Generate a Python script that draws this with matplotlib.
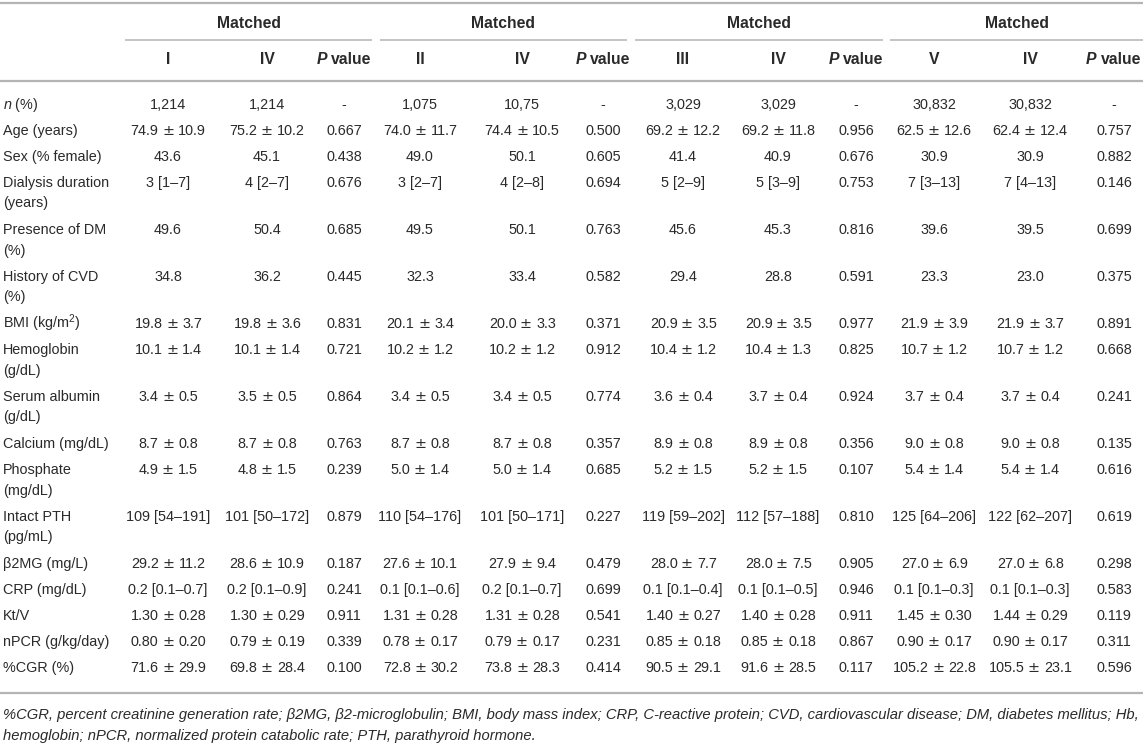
import matplotlib
matplotlib.use("Agg")
import matplotlib.pyplot as plt

plt.rcParams['font.family'] = ['Liberation Sans', 'DejaVu Sans']
plt.rcParams['mathtext.fontset'] = 'custom'
plt.rcParams['mathtext.rm'] = 'Liberation Sans'
plt.rcParams['mathtext.it'] = 'Liberation Sans:italic'
plt.rcParams['mathtext.bf'] = 'Liberation Sans:bold'

# ---------------- data ----------------
group_titles = ["Matched", "Matched", "Matched", "Matched"]
sub_headers = [["I", "IV"], ["II", "IV"], ["III", "IV"], ["V", "IV"]]

row_labels = [
    ["$n$ (%)"],
    ["Age (years)"],
    ["Sex (% female)"],
    ["Dialysis duration", "(years)"],
    ["Presence of DM", "(%)"],
    ["History of CVD", "(%)"],
    ["BMI (kg/m$^2$)"],
    ["Hemoglobin", "(g/dL)"],
    ["Serum albumin", "(g/dL)"],
    ["Calcium (mg/dL)"],
    ["Phosphate", "(mg/dL)"],
    ["Intact PTH", "(pg/mL)"],
    ["β2MG (mg/L)"],
    ["CRP (mg/dL)"],
    ["Kt/V"],
    ["nPCR (g/kg/day)"],
    ["%CGR (%)"],
]

g1_a = ["1,214", "74.9 ± 10.9", "43.6", "3 [1–7]", "49.6", "34.8", "19.8 ± 3.7",
        "10.1 ± 1.4", "3.4 ± 0.5", "8.7 ± 0.8", "4.9 ± 1.5", "109 [54–191]",
        "29.2 ± 11.2", "0.2 [0.1–0.7]", "1.30 ± 0.28", "0.80 ± 0.20", "71.6 ± 29.9"]
g1_b = ["1,214", "75.2 ± 10.2", "45.1", "4 [2–7]", "50.4", "36.2", "19.8 ± 3.6",
        "10.1 ± 1.4", "3.5 ± 0.5", "8.7 ± 0.8", "4.8 ± 1.5", "101 [50–172]",
        "28.6 ± 10.9", "0.2 [0.1–0.9]", "1.30 ± 0.29", "0.79 ± 0.19", "69.8 ± 28.4"]
g1_p = ["-", "0.667", "0.438", "0.676", "0.685", "0.445", "0.831", "0.721", "0.864",
        "0.763", "0.239", "0.879", "0.187", "0.241", "0.911", "0.339", "0.100"]

g2_a = ["1,075", "74.0 ± 11.7", "49.0", "3 [2–7]", "49.5", "32.3", "20.1 ± 3.4",
        "10.2 ± 1.2", "3.4 ± 0.5", "8.7 ± 0.8", "5.0 ± 1.4", "110 [54–176]",
        "27.6 ± 10.1", "0.1 [0.1–0.6]", "1.31 ± 0.28", "0.78 ± 0.17", "72.8 ± 30.2"]
g2_b = ["10,75", "74.4 ± 10.5", "50.1", "4 [2–8]", "50.1", "33.4", "20.0 ± 3.3",
        "10.2 ± 1.2", "3.4 ± 0.5", "8.7 ± 0.8", "5.0 ± 1.4", "101 [50–171]",
        "27.9 ± 9.4", "0.2 [0.1–0.7]", "1.31 ± 0.28", "0.79 ± 0.17", "73.8 ± 28.3"]
g2_p = ["-", "0.500", "0.605", "0.694", "0.763", "0.582", "0.371", "0.912", "0.774",
        "0.357", "0.685", "0.227", "0.479", "0.699", "0.541", "0.231", "0.414"]

g3_a = ["3,029", "69.2 ± 12.2", "41.4", "5 [2–9]", "45.6", "29.4", "20.9 ± 3.5",
        "10.4 ± 1.2", "3.6 ± 0.4", "8.9 ± 0.8", "5.2 ± 1.5", "119 [59–202]",
        "28.0 ± 7.7", "0.1 [0.1–0.4]", "1.40 ± 0.27", "0.85 ± 0.18", "90.5 ± 29.1"]
g3_b = ["3,029", "69.2 ± 11.8", "40.9", "5 [3–9]", "45.3", "28.8", "20.9 ± 3.5",
        "10.4 ± 1.3", "3.7 ± 0.4", "8.9 ± 0.8", "5.2 ± 1.5", "112 [57–188]",
        "28.0 ± 7.5", "0.1 [0.1–0.5]", "1.40 ± 0.28", "0.85 ± 0.18", "91.6 ± 28.5"]
g3_p = ["-", "0.956", "0.676", "0.753", "0.816", "0.591", "0.977", "0.825", "0.924",
        "0.356", "0.107", "0.810", "0.905", "0.946", "0.911", "0.867", "0.117"]

g4_a = ["30,832", "62.5 ± 12.6", "30.9", "7 [3–13]", "39.6", "23.3", "21.9 ± 3.9",
        "10.7 ± 1.2", "3.7 ± 0.4", "9.0 ± 0.8", "5.4 ± 1.4", "125 [64–206]",
        "27.0 ± 6.9", "0.1 [0.1–0.3]", "1.45 ± 0.30", "0.90 ± 0.17", "105.2 ± 22.8"]
g4_b = ["30,832", "62.4 ± 12.4", "30.9", "7 [4–13]", "39.5", "23.0", "21.9 ± 3.7",
        "10.7 ± 1.2", "3.7 ± 0.4", "9.0 ± 0.8", "5.4 ± 1.4", "122 [62–207]",
        "27.0 ± 6.8", "0.1 [0.1–0.3]", "1.44 ± 0.29", "0.90 ± 0.17", "105.5 ± 23.1"]
g4_p = ["-", "0.757", "0.882", "0.146", "0.699", "0.375", "0.891", "0.668", "0.241",
        "0.135", "0.616", "0.619", "0.298", "0.583", "0.119", "0.311", "0.596"]

footnote_lines = [
    "%CGR, percent creatinine generation rate; β2MG, β2-microglobulin; BMI, body mass index; "
    "CRP, C-reactive protein; CVD, cardiovascular disease; DM, diabetes mellitus; Hb,",
    "hemoglobin; nPCR, normalized protein catabolic rate; PTH, parathyroid hormone.",
]

groups = [(g1_a, g1_b, g1_p), (g2_a, g2_b, g2_p), (g3_a, g3_b, g3_p), (g4_a, g4_b, g4_p)]

# ---------------- layout ----------------
W, H = 1143, 744
fig = plt.figure(figsize=(W / 100, H / 100), dpi=100)
ax = fig.add_axes([0, 0, 1, 1])
ax.set_xlim(0, W)
ax.set_ylim(H, 0)
ax.axis('off')

TXT = '#2a2a2a'
LINE = '#b4b4b4'
FS = 10.4
HFS = 11.3
BASE = 5.0  # baseline offset below row centre
HBASE = 5.5
PM_GAP = 5.5    # distance between number edge and the ± ink
PM_HALF = 4.8   # half ink width of the ± sign in pixels
A_NUDGE = 0.9   # optical balance of the gap left of ±

col_x = [(168, 267, 344), (420, 522, 603), (683, 778, 856), (934, 1030, 1114)]
spans = [(125, 372), (380, 627), (635, 883), (890, 1143)]

# header lines
ax.plot([0, W], [3, 3], color=LINE, lw=1.6, solid_capstyle='butt')
ax.plot([0, W], [81, 81], color=LINE, lw=1.6, solid_capstyle='butt')
for (x0, x1) in spans:
    ax.plot([x0, x1], [40, 40], color=LINE, lw=1.1, solid_capstyle='butt')

fig.canvas.draw()
renderer = fig.canvas.get_renderer()


def text_width(s, fs, **kw):
    t = ax.text(0, 0, s, fontsize=fs, **kw)
    bb = t.get_window_extent(renderer=renderer)
    t.remove()
    return bb.width


def cell(x, yb, s):
    """Centred cell text; the ± sign is drawn a little larger, as in the reference."""
    if " ± " in s:
        a, b = s.split(" ± ")
        wa = text_width(a, FS)
        wb = text_width(b, FS)
        half = PM_HALF + PM_GAP
        total = wa + 2 * half + wb
        left = x - total / 2
        pm_c = left + wa + half
        ax.text(pm_c - half + A_NUDGE, yb, a, fontsize=FS, color=TXT, ha='right', va='baseline')
        ax.text(pm_c, yb, "±", fontsize=FS, color=TXT, ha='center',
                va='baseline', family='DejaVu Sans')
        ax.text(pm_c + half, yb, b, fontsize=FS, color=TXT, ha='left', va='baseline')
    else:
        ax.text(x, yb, s, fontsize=FS, color=TXT, ha='center', va='baseline')


for gi, (title, subs) in enumerate(zip(group_titles, sub_headers)):
    x0, x1 = spans[gi]
    ax.text((x0 + x1) / 2, 23 + HBASE, title, fontsize=HFS, fontweight='bold',
            color=TXT, ha='center', va='baseline')
    xa, xb, xp = col_x[gi]
    ax.text(xa, 59 + HBASE, subs[0], fontsize=HFS, fontweight='bold', color=TXT,
            ha='center', va='baseline')
    ax.text(xb, 59 + HBASE, subs[1], fontsize=HFS, fontweight='bold', color=TXT,
            ha='center', va='baseline')
    # "P value" with italic P
    ws = text_width("P value", HFS, fontweight='bold')
    left = min(xp - ws / 2, W - 2 - ws)
    ax.text(left, 59 + HBASE, "P", fontsize=HFS, fontweight='bold', fontstyle='italic',
            color=TXT, ha='left', va='baseline')
    ax.text(left + ws, 59 + HBASE, "value", fontsize=HFS, fontweight='bold',
            color=TXT, ha='right', va='baseline')

# body rows
SINGLE, DOUBLE, LINE2 = 26.0, 47.0, 20.5
y = 104.0
for ri, lab in enumerate(row_labels):
    ax.text(3, y + BASE, lab[0], fontsize=FS, color=TXT, ha='left', va='baseline')
    if len(lab) > 1:
        ax.text(3, y + LINE2 + BASE, lab[1], fontsize=FS, color=TXT, ha='left', va='baseline')
    for gi, (a, b, p) in enumerate(groups):
        xa, xb, xp = col_x[gi]
        cell(xa, y + BASE, a[ri])
        cell(xb, y + BASE, b[ri])
        cell(xp, y + BASE, p[ri])
    last_y = y
    y += DOUBLE if len(lab) > 1 else SINGLE

bottom = last_y + 26
ax.plot([0, W], [bottom, bottom], color=LINE, lw=1.6, solid_capstyle='butt')

# footnote, fitted to the table width
fs_fn = 10.0
wfn = text_width(footnote_lines[0], fs_fn, fontstyle='italic')
fs_fn = fs_fn * 1136 / wfn
for k, line in enumerate(footnote_lines):
    ax.text(3, bottom + 21 + 21 * k + BASE, line, fontsize=fs_fn, fontstyle='italic',
            color=TXT, ha='left', va='baseline')

fig.savefig("out.png", dpi=100)
